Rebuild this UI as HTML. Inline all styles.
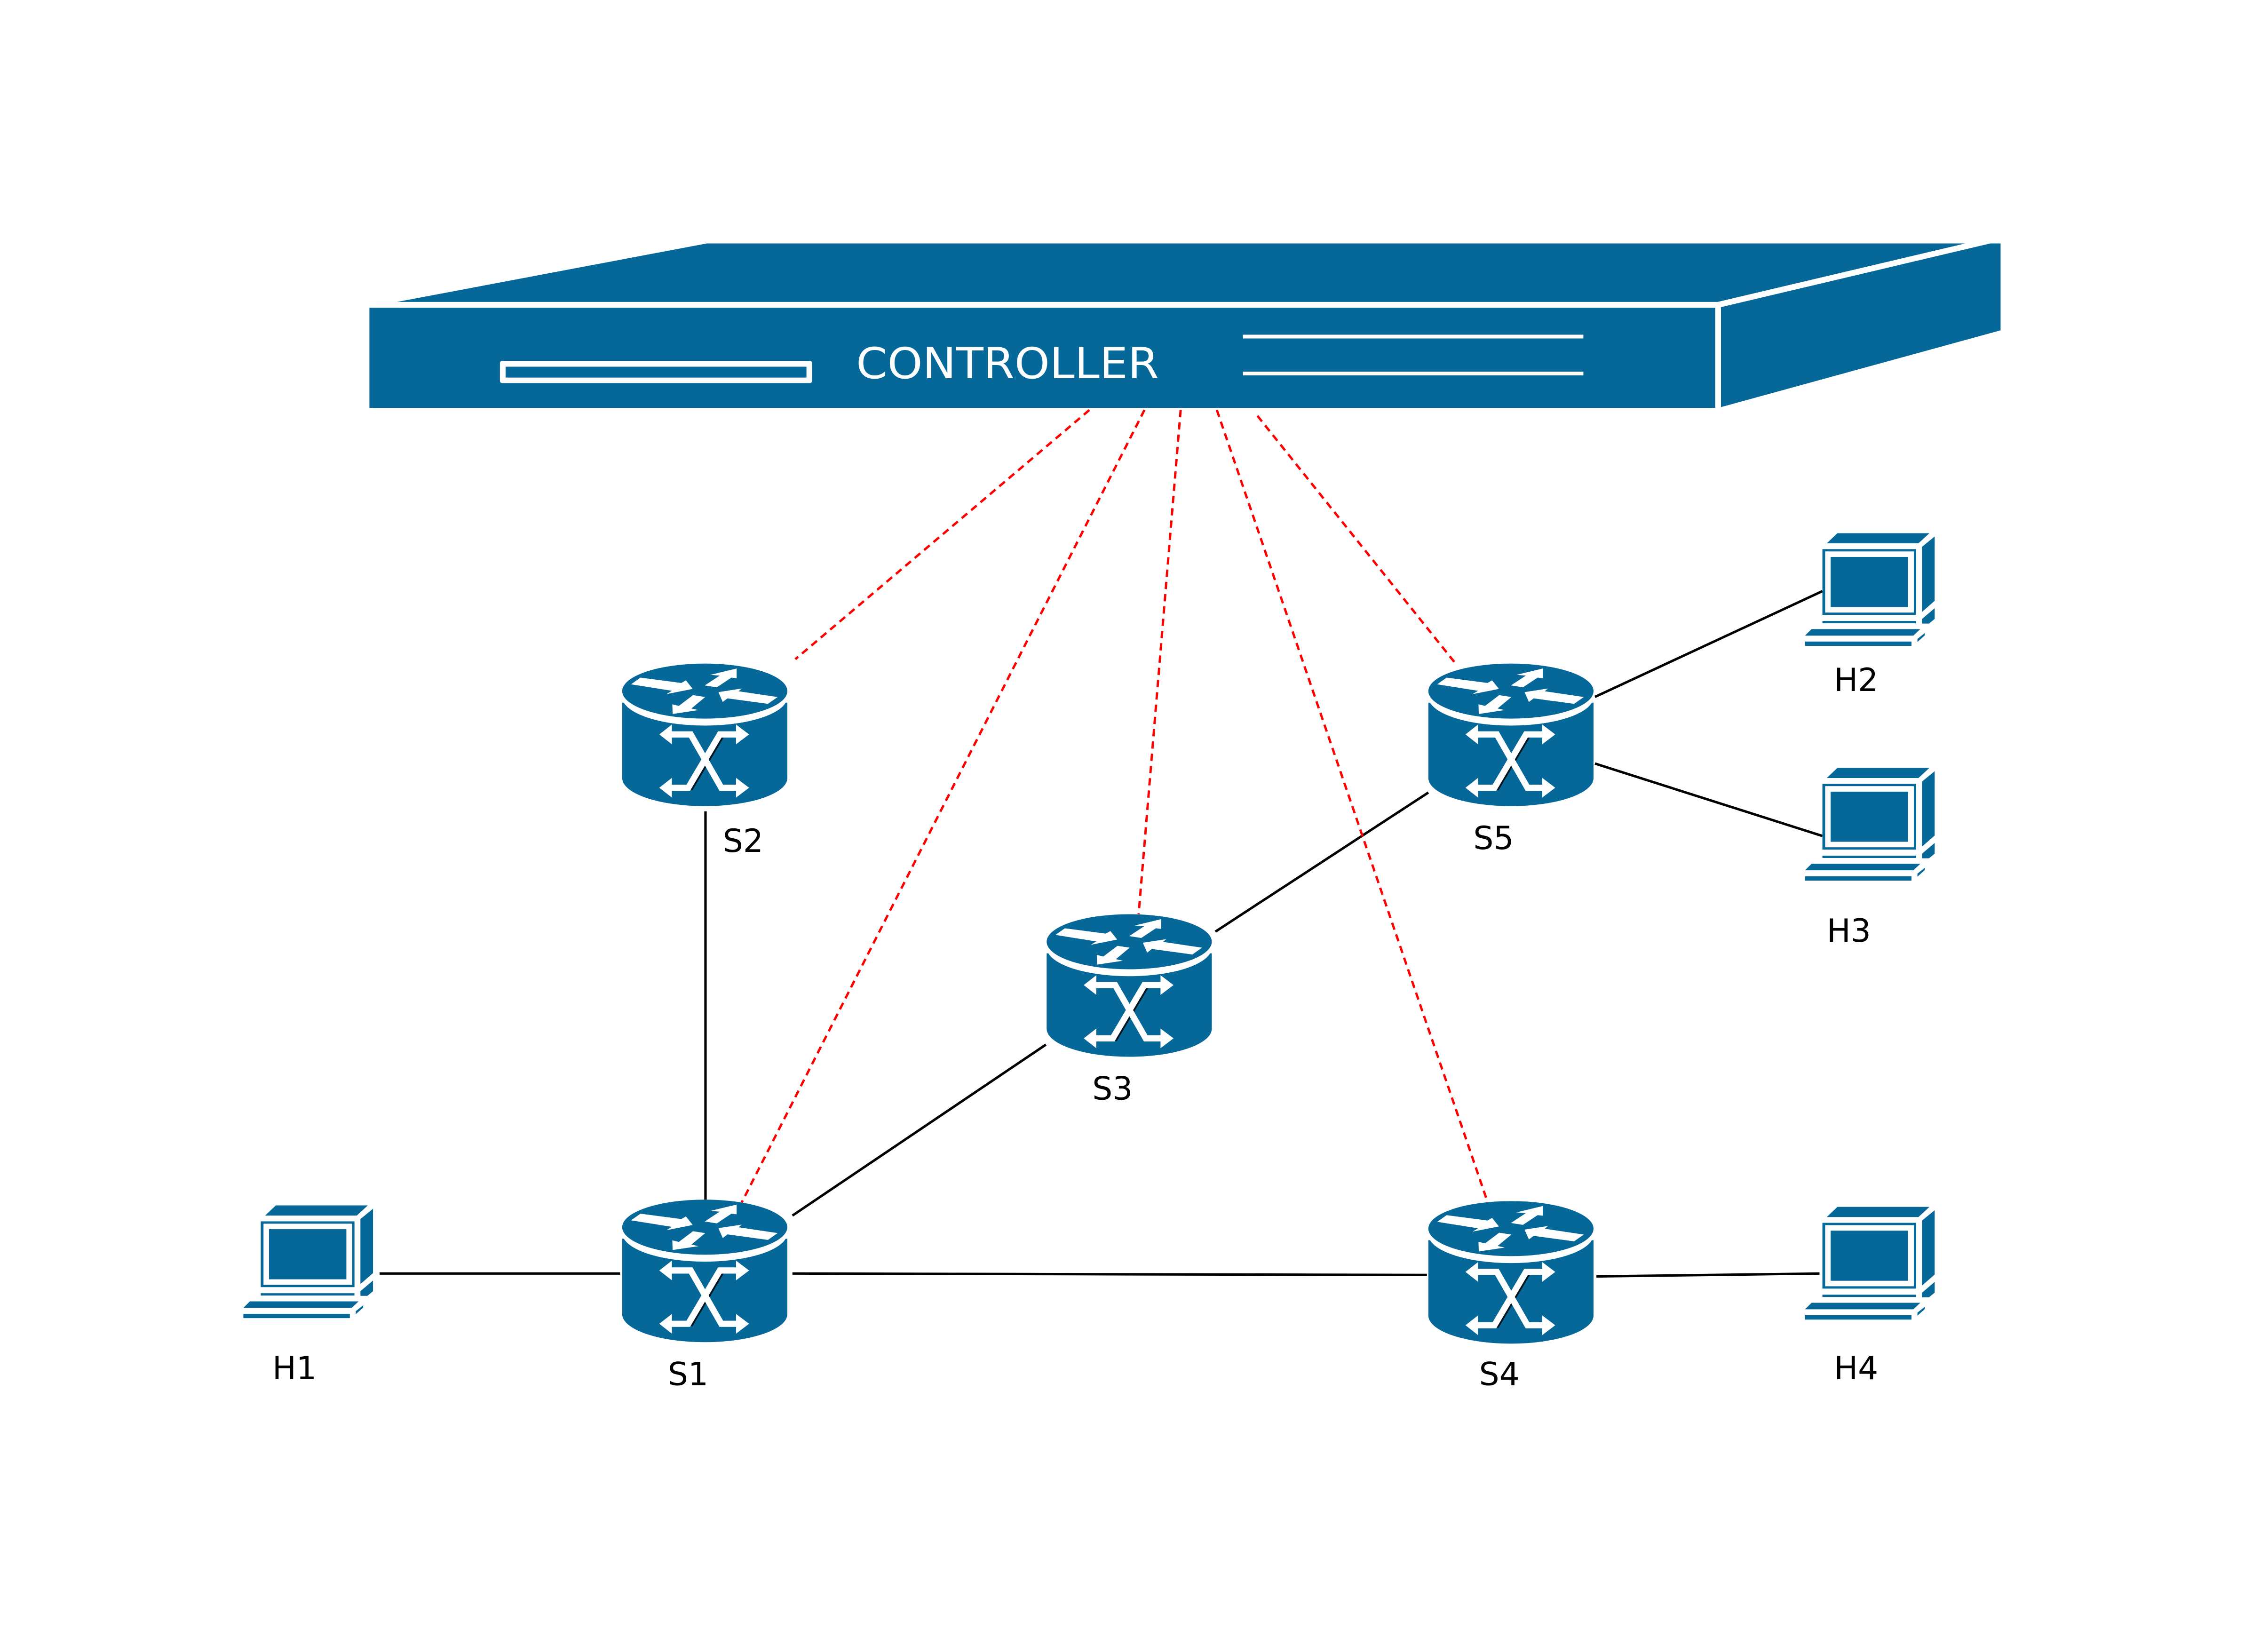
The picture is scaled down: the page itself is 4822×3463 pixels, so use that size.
<!DOCTYPE html>
<html><head><meta charset="utf-8"><style>html,body{margin:0;padding:0;background:#fff}svg{display:block}</style></head>
<body>
<svg width="4822" height="3463" viewBox="0 0 1565.6 1124.35" xmlns="http://www.w3.org/2000/svg">
<defs>
<g id="rt">
<path d="M-57,8 L-57,60 A57,19.4 0 0 0 57,60 L57,8 Z" fill="#056899"/>
<ellipse cx="0" cy="4" rx="57" ry="19.8" fill="#fff"/>
<ellipse cx="0" cy="0" rx="57" ry="19" fill="#056899"/>
<g fill="#fff">
<polygon points="-44.4,-9.3 -16.2,-5.6 -13,-7.4 -8.3,-1.5 -26.5,2.1 -22.7,-0.2 -50.9,-4.7"/>
<polygon points="0,-3.9 10.3,-10.7 3.8,-11.2 22,-15.6 22,-8.9 18.4,-9.3 8.3,-2.6"/>
<polygon points="50.3,4.1 43.6,8.8 15.7,5 12.4,7.5 9.4,0.7 25.6,-1.8 23.3,0.1"/>
<polygon points="-8.1,2.8 0.3,4.1 -9.2,12 -4.3,13.1 -22.2,15.8 -22.4,9.1 -17.9,10.2"/>
<polygon points="-31.4,29.9 -22.7,23.1 -22.7,36.7"/>
<polygon points="-31.4,66.7 -22.7,59.9 -22.7,73.5"/>
<polygon points="30.6,29.9 21.6,23.1 21.6,36.7"/>
<polygon points="30.6,66.7 21.6,59.9 21.6,73.5"/>
</g>
<g fill="none" stroke="#000" stroke-width="4.3" transform="translate(0.9,0.9)" opacity="0.8">
<path d="M-11.4,66.7 L10.4,29.9"/>
</g>
<g fill="none" stroke="#fff" stroke-width="4.3">
<path d="M-23,29.9 H-9.7 L11.4,66.7 H22"/>
<path d="M-23,66.7 H-11.4 L10.4,29.9 H22"/>
</g>
</g>
<g id="pc" fill="#056899">
<polygon points="3,-4 10.4,-11 73.9,-11 66.3,-4"/>
<polygon points="68.8,-1.6 77.5,-8.7 77.5,35.7 68.8,43.3"/>
<rect x="0" y="0" width="64.7" height="45.4"/>
<rect x="1.9" y="1.6" width="61.2" height="42.2" fill="#fff"/>
<rect x="5.7" y="5.4" width="53.4" height="34.6"/>
<rect x="0" y="49.6" width="64.7" height="1.6"/>
<polygon points="68.8,48.2 77.5,40.8 77.5,48.2 73.6,51.4 68.8,51.4"/>
<polygon points="-12,59.7 -7.5,55.2 67.6,55.2 62.8,59.7"/>
<rect x="-12" y="63.8" width="73.5" height="3"/>
<polygon points="65.6,62 70.7,57.9 70.7,59.5 65.6,64.1"/>
</g>
</defs>

<g fill="#056899">
<polygon points="274,208.4 488,168 1356.7,168 1185.7,208.4"/>
<rect x="255" y="212.4" width="929" height="69.1"/>
<polygon points="1188,212 1374,168 1381,168 1381,228 1188,281"/>
</g>
<rect x="345.1" y="249.1" width="215.5" height="15.3" rx="1.5" fill="#fff"/>
<rect x="349" y="253.1" width="207.7" height="7.5" fill="#056899"/>
<text x="591" y="261" font-family="DejaVu Sans, Liberation Sans, sans-serif" font-size="29.5" fill="#fff" textLength="209" lengthAdjust="spacingAndGlyphs">CONTROLLER</text>
<rect x="858" y="231" width="235" height="2.6" fill="#fff"/>
<rect x="858" y="256.5" width="235" height="2.6" fill="#fff"/>

<g stroke="#000" stroke-width="1.7" fill="none">
<line x1="262" y1="879" x2="428" y2="879"/>
<line x1="487" y1="560" x2="487" y2="828"/>
<line x1="547" y1="839" x2="722" y2="721"/>
<line x1="547" y1="879" x2="985" y2="880"/>
<line x1="839" y1="643" x2="986" y2="547"/>
<line x1="1101" y1="481" x2="1258" y2="408"/>
<line x1="1101" y1="527" x2="1258" y2="577"/>
<line x1="1102" y1="881" x2="1256" y2="879"/>
</g>
<g stroke="#f00" stroke-width="1.6" fill="none" stroke-dasharray="5,3.5">
<line x1="752" y1="283" x2="549" y2="455"/>
<line x1="790" y1="283" x2="512" y2="830"/>
<line x1="815" y1="283" x2="786" y2="631"/>
<line x1="840" y1="283" x2="1027" y2="830"/>
<line x1="868" y1="287" x2="1004" y2="457"/>
</g>

<use href="#rt" x="486.5" y="477"/>
<use href="#rt" x="1043" y="477"/>
<use href="#rt" x="779.5" y="650"/>
<use href="#rt" x="486.5" y="847"/>
<use href="#rt" x="1043" y="848"/>

<use href="#pc" x="1258" y="379"/>
<use href="#pc" x="1258" y="541"/>
<use href="#pc" x="180" y="843"/>
<use href="#pc" x="1258" y="844"/>

<g font-family="DejaVu Sans, Liberation Sans, sans-serif" font-size="22" fill="#000">
<text x="499" y="588">S2</text>
<text x="1017" y="586">S5</text>
<text x="754" y="759">S3</text>
<text x="461" y="956">S1</text>
<text x="1021" y="956">S4</text>
<text x="188" y="952">H1</text>
<text x="1266" y="477">H2</text>
<text x="1261" y="650">H3</text>
<text x="1266" y="952">H4</text>
</g>
</svg>
</body></html>
